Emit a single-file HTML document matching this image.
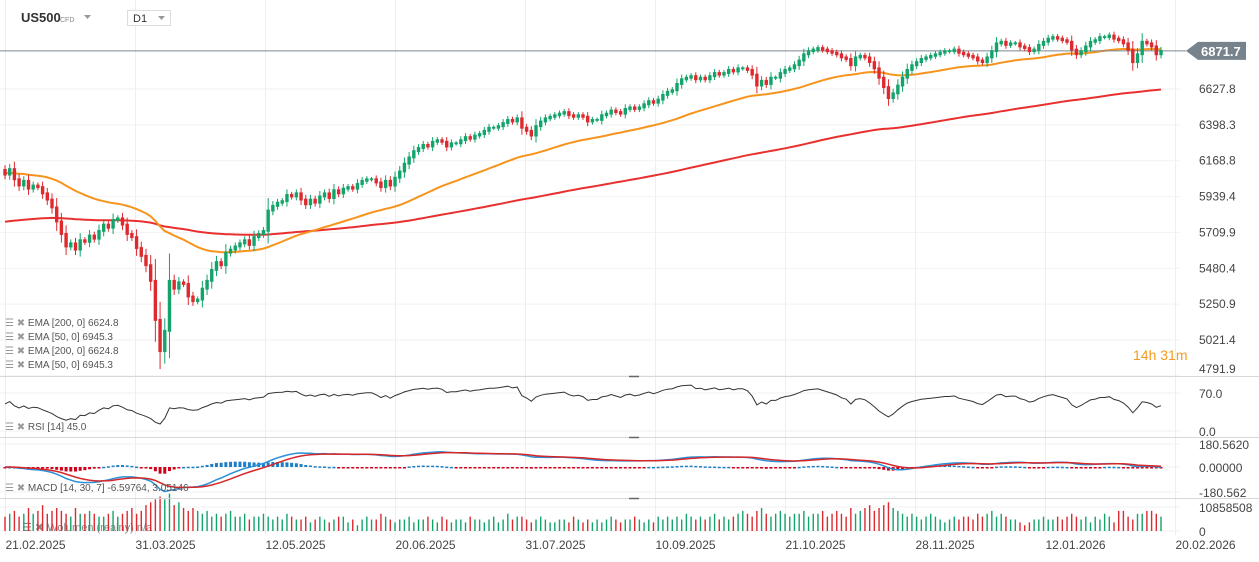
<!DOCTYPE html>
<html><head><meta charset="utf-8"><style>
html,body{margin:0;padding:0;background:#fff;}
svg{display:block;font-family:"Liberation Sans",sans-serif;}
</style></head><body>
<svg id="c" width="1259" height="562" xmlns="http://www.w3.org/2000/svg">
<g id="grid"></g>
<g id="vol">
<text x="22" y="531" font-size="11" fill="#888">☰ ✖ Wolumen (realny) n/a</text>
</g>
<g id="main"></g>
<g id="rsi"></g>
<g id="macd"></g>
<g id="axes"></g>
<g>
<text x="21" y="22" font-size="13" font-weight="bold" fill="#333">US500</text>
<text x="60" y="22" font-size="7" fill="#888">CFD</text>
<polygon points="84,15 91,15 87.5,19" fill="#999"/>
<rect x="127.5" y="10.5" width="43" height="15" fill="#fff" stroke="#ddd"/>
<text x="133" y="22" font-size="11" fill="#333">D1</text>
<polygon points="158,16 165,16 161.5,20" fill="#999"/>
</g>
<g font-size="10" fill="#555">
<text x="5" y="326"><tspan fill="#999">☰ ✖ </tspan>EMA [200, 0] 6624.8</text>
<text x="5" y="340"><tspan fill="#999">☰ ✖ </tspan>EMA [50, 0] 6945.3</text>
<text x="5" y="354"><tspan fill="#999">☰ ✖ </tspan>EMA [200, 0] 6624.8</text>
<text x="5" y="368"><tspan fill="#999">☰ ✖ </tspan>EMA [50, 0] 6945.3</text>
<text x="5" y="430"><tspan fill="#999">☰ ✖ </tspan>RSI [14] 45.0</text>
<text x="5" y="491"><tspan fill="#999">☰ ✖ </tspan>MACD [14, 30, 7] -6.59764, 3.05146</text>
</g>
<text x="1133" y="360" font-size="14" fill="#f39a1e">14h 31m</text>
</svg>
<script>
const closes=[6080,6115,6050,6010,6040,5990,6010,6000,5960,5920,5870,5780,5700,5620,5640,5600,5660,5650,5690,5670,5720,5760,5740,5790,5800,5760,5700,5680,5610,5560,5500,5400,5150,4950,5080,5400,5350,5390,5380,5300,5270,5280,5350,5400,5470,5520,5500,5580,5600,5620,5640,5660,5630,5680,5700,5720,5850,5880,5900,5910,5950,5940,5960,5920,5890,5920,5900,5940,5960,5930,5980,5960,5990,6000,5990,6020,6040,6050,6050,6030,6000,6040,6010,6060,6100,6150,6190,6230,6250,6270,6260,6290,6300,6290,6260,6280,6280,6300,6320,6310,6330,6340,6360,6380,6380,6390,6410,6430,6420,6440,6380,6360,6330,6390,6420,6440,6450,6460,6470,6480,6460,6450,6460,6450,6420,6430,6430,6460,6470,6490,6480,6470,6500,6510,6500,6510,6530,6550,6540,6560,6590,6610,6620,6660,6690,6700,6710,6690,6700,6690,6710,6730,6720,6730,6750,6740,6760,6760,6750,6720,6650,6680,6660,6700,6700,6730,6750,6760,6780,6810,6850,6870,6880,6890,6880,6870,6860,6850,6830,6820,6780,6830,6840,6830,6800,6760,6700,6640,6570,6600,6650,6700,6750,6780,6800,6820,6830,6840,6850,6860,6870,6870,6880,6860,6850,6840,6830,6810,6800,6830,6870,6920,6930,6910,6920,6920,6900,6890,6870,6880,6910,6930,6950,6960,6950,6940,6930,6880,6850,6870,6900,6930,6940,6960,6960,6970,6950,6940,6920,6880,6800,6850,6930,6920,6900,6850,6871.7];
const volumes=[6.5,7.8,9.1,6.5,7.8,10.4,7.8,9.1,11.7,7.8,9.1,10.4,9.1,7.8,6.5,10.4,7.8,7.8,9.1,7.8,6.5,6.5,7.8,9.1,6.5,7.8,9.1,10.4,7.8,9.1,11.7,13,14.3,15.6,14.3,16.9,11.7,13,10.4,9.1,10.4,9.1,7.8,9.1,6.5,7.8,6.5,7.8,9.1,6.5,6.5,7.8,5.2,6.5,6.5,7.8,6.5,5.2,6.5,5.2,7.8,6.5,5.2,5.2,6.5,3.9,5.2,6.5,5.2,3.9,5.2,6.5,6.5,3.9,5.2,2.6,5.2,6.5,5.2,5.2,7.8,6.5,5.2,3.9,5.2,5.2,6.5,3.9,5.2,5.2,6.5,5.2,3.9,6.5,5.2,3.9,5.2,5.2,3.9,6.5,5.2,5.2,3.9,5.2,6.5,3.9,5.2,7.8,5.2,6.5,6.5,5.2,3.9,5.2,6.5,5.2,3.9,3.9,5.2,5.2,3.9,6.5,5.2,3.9,5.2,3.9,5.2,3.9,5.2,6.5,5.2,3.9,5.2,5.2,6.5,5.2,3.9,5.2,3.9,6.5,5.2,6.5,5.2,6.5,5.2,7.8,6.5,5.2,6.5,5.2,6.5,7.8,5.2,6.5,5.2,6.5,7.8,9.1,7.8,6.5,9.1,10.4,7.8,6.5,7.8,9.1,7.8,6.5,7.8,7.8,9.1,6.5,7.8,7.8,9.1,6.5,7.8,9.1,7.8,6.5,10.4,7.8,9.1,10.4,11.7,9.1,10.4,11.7,13,10.4,9.1,7.8,6.5,7.8,6.5,5.2,6.5,7.8,6.5,5.2,3.9,5.2,6.5,5.2,6.5,6.5,5.2,7.8,6.5,7.8,9.1,6.5,7.8,6.5,5.2,5.2,3.9,2.6,3.9,5.2,5.2,6.5,5.2,5.2,6.5,5.2,6.5,7.8,6.5,5.2,6.5,3.9,6.5,5.2,7.8,6.5,3.9,9.1,9.1,6.5,5.2,7.8,7.8,9.1,9.1,7.8,6.5,9.1];
const dateLabels=["21.02.2025","31.03.2025","12.05.2025","20.06.2025","31.07.2025","10.09.2025","21.10.2025","28.11.2025","12.01.2026","20.02.2026"];
const priceTicks=[6627.8,6398.3,6168.8,5939.4,5709.9,5480.4,5250.9,5021.4,4791.9];
const firstOpen=6110;
const lastPrice=6871.7;

const NS="http://www.w3.org/2000/svg";
function el(p,t,a){const e=document.createElementNS(NS,t);for(const k in a)e.setAttribute(k,a[k]);p.appendChild(e);return e;}
const n=closes.length;
const X=i=>5+i*(1156/(n-1));
const Y=p=>89+(6627.8-p)/6.4;
const Yr=v=>431-v*0.543;
const Ym=v=>467-v*(24/180.562);
const Yv=v=>531-v*(24/10.858508);
const G={grid:document.getElementById('grid'),main:document.getElementById('main'),rsi:document.getElementById('rsi'),macd:document.getElementById('macd'),vol:document.getElementById('vol'),axes:document.getElementById('axes')};

dateLabels.forEach((d,k)=>{const gx=5+130*k+0.5;
 const l=el(G.grid,'line',{x1:gx,x2:gx,y1:0,y2:535,stroke:'#eeeeee'});
 
 
 const t=el(G.axes,'text',{x:gx,y:549,'font-size':12,fill:'#444'});t.textContent=d;
 
 
});
priceTicks.forEach(p=>{const y=Y(p);
 const l=el(G.grid,'line',{x1:0,x2:1180,y1:y,y2:y,stroke:'#f2f2f2'});
 
 
 const t=el(G.axes,'text',{x:1199,y:Math.min(y+4,373),'font-size':12,fill:'#444'});t.textContent=p.toFixed(1);
 
 
});
[[393,'70.0'],[431,'0.0'],[444,'180.5620'],[467,'0.00000'],[492,'-180.562'],[507,'10858508'],[531,'0']].forEach(([y,s])=>{
 const l=el(G.grid,'line',{x1:0,x2:1180,y1:y,y2:y,stroke:'#f0f0f0'});
 
 
 const t=el(G.axes,'text',{x:1199,y:y+5,'font-size':12,fill:'#444'});t.textContent=s;
 
 
});
[376.5,437.5,498.5].forEach(y=>{
 const l=el(G.axes,'line',{x1:0,x2:1259,y1:y,y2:y,stroke:'#d8d8d8'});
 
 
 const h=el(G.axes,'line',{x1:629,x2:639,y1:y,y2:y,stroke:'#666','stroke-width':1.5});
 
 
});

function ema(period,seed){const a=2/(period+1);let e=seed;return closes.map(c=>(e=e+a*(c-e)));}
const e200=ema(170,5775), e50=ema(45,6090);
function path(arr,yf){return arr.map((v,i)=>(i?'L':'M')+X(i).toFixed(1)+','+yf(v).toFixed(1)).join('');}
const p200=el(G.main,'path',{d:path(e200,Y),fill:'none',stroke:'#e8302f','stroke-width':2});


const p50=el(G.main,'path',{d:path(e50,Y),fill:'none',stroke:'#f7941d','stroke-width':2});



const ly=Y(lastPrice);
const cl=el(G.main,'line',{x1:0,x2:1186,y1:ly,y2:ly,stroke:'#7a8890','stroke-width':1});


const box=el(G.main,'polygon',{points:`1186,${ly} 1198,${ly-9} 1246,${ly-9} 1246,${ly+9} 1198,${ly+9}`,fill:'#76838c'});


const bt=el(G.main,'text',{x:1201,y:ly+5,'font-size':13,'font-weight':'bold',fill:'#fff'});bt.textContent=lastPrice.toFixed(1);



closes.forEach((c,i)=>{const o=i?closes[i-1]:firstOpen;const up=c>=o;const col=up?'#13a36b':'#dc2a2f';const x=X(i);
 const wk=15+0.5*Math.abs(c-o);
 const hi=Math.max(o,c)+wk,lo=Math.min(o,c)-wk;
 const w=el(G.main,'line',{x1:x,x2:x,y1:Y(hi),y2:Y(lo),stroke:col,'stroke-width':1});
 
 
 const yt=Y(Math.max(o,c)+6),yb=Y(Math.min(o,c)-6);
 const b=el(G.main,'rect',{x:x-1.7,y:yt,width:3.4,height:Math.max(1,yb-yt),fill:col});
 
 
 const v=el(G.vol,'rect',{x:x-0.7,y:Yv(volumes[i]),width:1.4,height:531-Yv(volumes[i]),fill:col});
 
 
});

let ag=15,al=15;const rsi=[50];
for(let i=1;i<n;i++){const d=closes[i]-closes[i-1];ag=(ag*13+Math.max(d,0))/14;al=(al*13+Math.max(-d,0))/14;rsi.push(100-100/(1+ag/al));}
const rp=el(G.rsi,'path',{d:path(rsi,Yr),fill:'none',stroke:'#333','stroke-width':1});



const f=ema(14,closes[0]+20),s=ema(30,closes[0]+20);
const macd=f.map((v,i)=>v-s[i]);let sg=0;const sig=macd.map(m=>(sg=sg+0.25*(m-sg)));
macd.forEach((m,i)=>{const h=(m-sig[i]);const y0=467,y1=Ym(h);
 const r=el(G.macd,'rect',{x:X(i)-1.5,y:Math.min(y0,y1),width:3,height:Math.max(1.5,Math.abs(y1-y0)),fill:h>=0?'#1a7fc7':'#d0021b'});
 
 
});
const mp=el(G.macd,'path',{d:path(macd,Ym),fill:'none',stroke:'#2a90d8','stroke-width':1.5});


const sp=el(G.macd,'path',{d:path(sig,Ym),fill:'none',stroke:'#d62728','stroke-width':1.5});


</script>
</body></html>
